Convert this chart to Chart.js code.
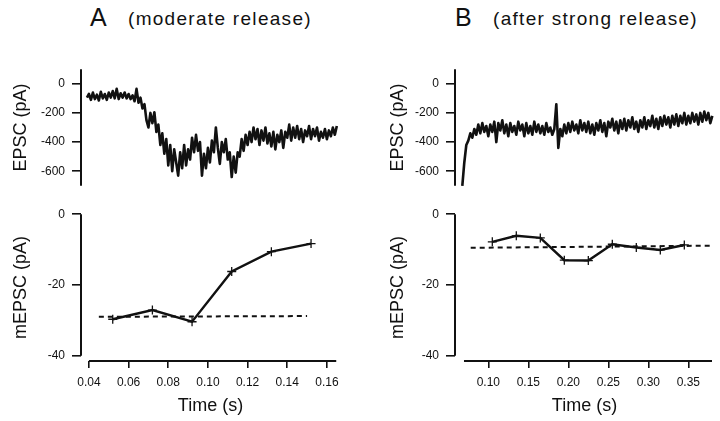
<!DOCTYPE html>
<html>
<head>
<meta charset="utf-8">
<script src="https://cdn.jsdelivr.net/npm/chart.js@4.4.0/dist/chart.umd.min.js"></script>
<style>
  body { margin: 0; background: #fff; }
  #fig { position: relative; width: 720px; height: 421px; overflow: hidden; font-family: 'Liberation Sans', Arial, sans-serif; color: #111; }
  canvas { position: absolute; }
  .big { position: absolute; font-size: 25px; line-height: 1; }
  .sub { position: absolute; font-size: 19px; line-height: 1; letter-spacing: 1.3px; white-space: pre; }
</style>
</head>
<body>
<div id="fig">
  <div class="big" style="left:90px;top:5px">A</div>
  <div class="sub" style="left:128px;top:9px">(moderate release)</div>
  <div class="big" style="left:455px;top:5px">B</div>
  <div class="sub" style="left:493px;top:9px">(after strong release)</div>
  <canvas id="aTop" width="360" height="145" style="left:0;top:55px"></canvas>
  <canvas id="aBot" width="360" height="221" style="left:0;top:200px"></canvas>
  <canvas id="bTop" width="360" height="145" style="left:360px;top:55px"></canvas>
  <canvas id="bBot" width="360" height="221" style="left:360px;top:200px"></canvas>
</div>
<script>
// EPSC traces (pA), sampled on a fixed time grid
const aTraceStart = 0.039, aTraceStep = 0.001;
const aTrace = [
  -95, -70, -110, -60, -105, -75, -115, -55, -100, -70,
  -110, -60, -95, -50, -100, -35, -105, -65, -95, -60,
  -100, -70, -105, -80, -120, -35, -130, -95, -170, -140,
  -250, -300, -200, -270, -195, -330, -280, -420, -340, -480,
  -380, -560, -420, -600, -450, -540, -630, -470, -580, -420,
  -560, -450, -520, -370, -470, -350, -460, -400, -630, -480,
  -580, -440, -540, -390, -470, -300, -440, -550, -400, -470,
  -380, -520, -470, -640, -500, -610, -470, -500, -380, -460,
  -350, -420, -330, -400, -300, -380, -310, -420, -320, -390,
  -300, -410, -340, -430, -330, -450, -350, -400, -320, -440,
  -330, -370, -280, -390, -300, -370, -290, -380, -310, -400,
  -320, -360, -290, -380, -310, -360, -300, -390, -330, -370,
  -310, -380, -320, -360, -300, -350, -290
];
const bTraceStart = 0.0675, bTraceStep = 0.0025;
const bTrace = [
  -700, -540, -420, -390, -340, -370, -310, -350, -280, -340,
  -270, -330, -290, -360, -280, -330, -260, -400, -270, -320,
  -250, -340, -280, -360, -270, -330, -290, -350, -260, -320,
  -280, -360, -270, -340, -290, -350, -260, -330, -280, -340,
  -290, -350, -270, -330, -300, -350, -310, -140, -440, -310,
  -360, -280, -340, -270, -330, -260, -320, -280, -340, -250,
  -320, -270, -330, -260, -340, -280, -350, -270, -320, -250,
  -330, -270, -360, -260, -300, -240, -320, -260, -340, -250,
  -310, -240, -320, -250, -300, -230, -310, -260, -330, -250,
  -300, -230, -310, -250, -290, -220, -300, -240, -310, -230,
  -290, -220, -280, -230, -300, -220, -280, -210, -290, -220,
  -270, -200, -280, -220, -270, -200, -260, -210, -280, -200,
  -260, -190, -250, -200, -270, -220
];

// mEPSC amplitudes (pA)
const aTimes = [0.052, 0.072, 0.092, 0.112, 0.132, 0.152];
const aMepsc = [-29.7, -27.1, -30.4, -16.2, -10.6, -8.3];
const aMeanTimes = [0.045, 0.150];
const aMean = [-29.0, -28.8];

const bTimes = [0.105, 0.135, 0.165, 0.195, 0.225, 0.255, 0.285, 0.315, 0.345];
const bMepsc = [-7.8, -6.1, -6.7, -13.0, -13.1, -8.5, -9.4, -10.1, -8.7];
const bMeanTimes = [0.078, 0.380];
const bMean = [-9.5, -8.9];

// ticks
const epscTicks = [0, -200, -400, -600];
const mepscTicks = [0, -20, -40];
const aTimeTicks = [0.04, 0.06, 0.08, 0.10, 0.12, 0.14, 0.16];
const aTimeLabels = ['0.04', '0.06', '0.08', '0.10', '0.12', '0.14', '0.16'];
const bTimeTicks = [0.10, 0.15, 0.20, 0.25, 0.30, 0.35];
const bTimeLabels = ['0.10', '0.15', '0.20', '0.25', '0.30', '0.35'];

const ink = '#111';
Chart.defaults.font.family = "'Liberation Sans', Arial, sans-serif";
Chart.defaults.color = ink;
Chart.defaults.animation = false;

function toPoints(xs, ys) {
    return ys.map((y, i) => ({x: xs[i], y: y}));
}

function tracePoints(start, step, ys) {
    return ys.map((y, i) => ({x: start + step * i, y: y}));
}

// axis lines that stop at given data values
const axisLines = {
    id: 'axisLines',
    afterDatasetsDraw(chart, args, opts) {
        const {ctx, chartArea, scales} = chart;
        ctx.save();
        ctx.strokeStyle = ink;
        ctx.lineWidth = 2;
        ctx.beginPath();
        if (opts.y) {
            ctx.moveTo(chartArea.left, scales.y.getPixelForValue(opts.y[0]));
            ctx.lineTo(chartArea.left, scales.y.getPixelForValue(opts.y[1]));
        }
        if (opts.x) {
            ctx.moveTo(scales.x.getPixelForValue(opts.x[0]), chartArea.bottom);
            ctx.lineTo(scales.x.getPixelForValue(opts.x[1]), chartArea.bottom);
        }
        ctx.stroke();
        ctx.restore();
    }
};

function yScale(min, max, ticks, title, width, titlePad) {
    return {
        type: 'linear',
        min: min,
        max: max,
        afterBuildTicks: s => { s.ticks = ticks.map(v => ({value: v})); },
        afterFit: s => { s.width = width; },
        grid: {drawOnChartArea: false, tickLength: 9, color: ink, lineWidth: 1.6},
        border: {display: false},
        ticks: {autoSkip: false, padding: 7, font: {size: 12}, color: ink, callback: v => String(v)},
        title: {display: true, text: title, font: {size: 18}, color: ink, padding: {top: titlePad, bottom: 0}}
    };
}

function xScale(min, max, ticks, labels) {
    return {
        type: 'linear',
        min: min,
        max: max,
        afterBuildTicks: s => { s.ticks = ticks.map(v => ({value: v})); },
        afterFit: s => { s.height = 60; },
        grid: {drawOnChartArea: false, tickLength: 7, color: ink, lineWidth: 1.6},
        border: {display: false},
        ticks: {autoSkip: false, maxRotation: 0, padding: 7, font: {size: 12}, color: ink, callback: (v, i) => labels[i]},
        title: {display: true, text: 'Time (s)', font: {size: 18}, color: ink, padding: {top: 0, bottom: 4}}
    };
}

function traceChart(id, points, xMin, xMax, yWidth, titlePad, padRight) {
    new Chart(document.getElementById(id), {
        type: 'line',
        data: {
            datasets: [{
                data: points,
                borderColor: ink,
                borderWidth: 2.6,
                borderJoinStyle: 'round',
                pointRadius: 0,
                tension: 0,
                clip: false
            }]
        },
        options: {
            responsive: false,
            events: [],
            layout: {padding: {top: 8, right: padRight, bottom: 3, left: 0}},
            plugins: {legend: {display: false}, tooltip: {enabled: false}, axisLines: {y: [100, -700]}},
            scales: {
                x: {type: 'linear', display: false, min: xMin, max: xMax},
                y: yScale(-700, 100, epscTicks, 'EPSC (pA)', yWidth, titlePad)
            }
        },
        plugins: [axisLines]
    });
}

function mepscChart(id, points, mean, xMin, xMax, xTicks, xLabels, xLine, yWidth, titlePad, padRight) {
    new Chart(document.getElementById(id), {
        type: 'line',
        data: {
            datasets: [{
                data: mean,
                borderColor: ink,
                borderWidth: 2,
                borderDash: [5, 4],
                pointRadius: 0,
                clip: false
            }, {
                data: points,
                borderColor: ink,
                borderWidth: 2.4,
                pointStyle: 'cross',
                pointRadius: 4.5,
                pointBorderWidth: 1.3,
                pointBorderColor: ink,
                tension: 0
            }]
        },
        options: {
            responsive: false,
            events: [],
            layout: {padding: {top: 5.5, right: padRight, bottom: 0, left: 0}},
            plugins: {legend: {display: false}, tooltip: {enabled: false}, axisLines: {y: [0, -40], x: xLine}},
            scales: {
                x: xScale(xMin, xMax, xTicks, xLabels),
                y: yScale(-41.5, 0, mepscTicks, 'mEPSC (pA)', yWidth, titlePad)
            }
        },
        plugins: [axisLines]
    });
}

traceChart('aTop', tracePoints(aTraceStart, aTraceStep, aTrace), 0.036, 0.1666, 81, 10, 20);
traceChart('bTop', tracePoints(bTraceStart, bTraceStep, bTrace), 0.05837, 0.3821, 95, 27, 6);

mepscChart('aBot', toPoints(aTimes, aMepsc), toPoints(aMeanTimes, aMean),
    0.036, 0.1666, aTimeTicks, aTimeLabels, [0.04, 0.1647], 81, 10, 20);
mepscChart('bBot', toPoints(bTimes, bMepsc), toPoints(bMeanTimes, bMean),
    0.05837, 0.3821, bTimeTicks, bTimeLabels, [0.0696, 0.3796], 95, 27, 6);
</script>
</body>
</html>
